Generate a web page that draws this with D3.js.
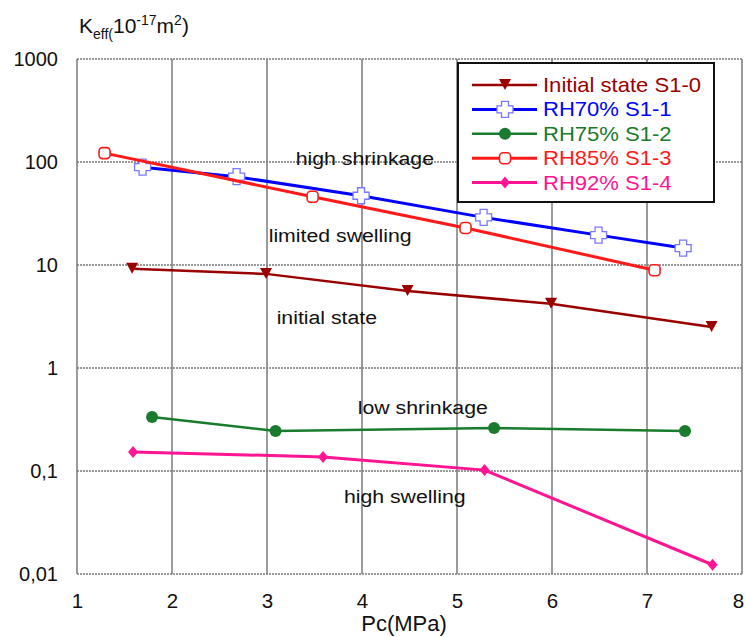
<!DOCTYPE html>
<html><head><meta charset="utf-8">
<script src="https://cdn.jsdelivr.net/npm/d3@7"></script>
<style>body{margin:0;background:#fff}svg{display:block;font-family:"Liberation Sans",Arial,sans-serif}</style>
</head><body><svg id="c" width="746" height="637"></svg>
<script>
const xTicks = [1,2,3,4,5,6,7,8];
const yTicks = [0.01,0.1,1,10,100,1000];
const yTickLabels = ["0,01","0,1","1","10","100","1000"];
const seriesNames = ["Initial state S1-0","RH70% S1-1","RH75% S1-2","RH85% S1-3","RH92% S1-4"];
const seriesColors = ["#990000","#0000ff","#1a7a2e","#ff1a1a","#ff1493"];
const s0x = [1.58,2.99,4.48,5.99,7.68], s0y = [9.2,8.2,5.6,4.2,2.5];
const s1x = [1.69,2.68,3.99,5.28,6.49,7.38], s1y = [89,72,47,29,19.5,14.6];
const s2x = [1.79,3.09,5.39,7.40], s2y = [0.334,0.245,0.262,0.245];
const s3x = [1.29,3.48,5.09,7.08], s3y = [122,46,22.9,8.9];
const s4x = [1.59,3.59,5.29,7.69], s4y = [0.153,0.137,0.102,0.0123];
const notes = ["high shrinkage","limited swelling","initial state","low shrinkage","high swelling"];
const noteX = [4.03,3.77,3.63,4.64,4.45], noteY = [93.5,16.7,2.67,0.357,0.0489];

const svg = d3.select("#c");
const L=77,R=742,T=59,B=574;
const x = d3.scaleLinear().domain([1,8]).range([L,R]);
const y = d3.scaleLog().domain([0.01,1000]).range([B,T]);

// grid
svg.append("g").selectAll("line").data(xTicks).join("line")
  .attr("x1",d=>x(d)).attr("x2",d=>x(d)).attr("y1",T).attr("y2",B)
  .attr("stroke","#7a7a7a").attr("stroke-width",1.5);
svg.append("g").selectAll("line").data(yTicks).join("line")
  .attr("x1",L).attr("x2",R).attr("y1",d=>y(d)).attr("y2",d=>y(d))
  .attr("stroke","#7a7a7a").attr("stroke-width",1.5).attr("stroke-dasharray","2,1");

// axes
const xa = svg.append("g").attr("transform",`translate(0,${B})`)
  .call(d3.axisBottom(x).tickValues(xTicks).tickSize(0).tickPadding(19).tickFormat(d3.format("d")));
xa.select(".domain").remove();
xa.selectAll("text").attr("font-size",20.5).attr("fill","#111").attr("font-family","Liberation Sans, Arial")
  .attr("dx",d=>d===8?-4:0);
const ya = svg.append("g").attr("transform",`translate(${L},0)`)
  .call(d3.axisLeft(y).tickValues(yTicks).tickSize(0).tickPadding(19).tickFormat((d,i)=>yTickLabels[i]));
ya.select(".domain").remove();
ya.selectAll("text").attr("font-size",20).attr("fill","#111").attr("font-family","Liberation Sans, Arial");

// axis titles
svg.append("text").attr("x",404).attr("y",631).attr("text-anchor","middle")
  .attr("font-size",22).attr("fill","#111").text("Pc(MPa)");
const yt = svg.append("text").attr("x",79).attr("y",33).attr("font-size",21).attr("fill","#111");
yt.append("tspan").text("K");
yt.append("tspan").attr("font-size",14).attr("dy",6).text("eff(");
yt.append("tspan").attr("dy",-6).text("10");
yt.append("tspan").attr("font-size",14).attr("dy",-8).text("-17");
yt.append("tspan").attr("dy",8).text("m");
yt.append("tspan").attr("font-size",14).attr("dy",-8).text("2");
yt.append("tspan").attr("dy",8).text(")");

// annotations
svg.append("g").selectAll("text").data(notes).join("text")
  .attr("transform",(d,i)=>`translate(${x(noteX[i])},${y(noteY[i])}) scale(1.12,1)`)
  .attr("text-anchor","middle")
  .attr("font-size",19).attr("fill","#111").text(d=>d);

const data = [[s0x,s0y],[s1x,s1y],[s2x,s2y],[s3x,s3y],[s4x,s4y]].map(([a,b])=>a.map((v,i)=>[v,b[i]]));
const widths=[2.5,3,2.5,3,3];
const line = d3.line().x(d=>x(d[0])).y(d=>y(d[1]));

function marker(g,k,cx,cy){
  const c=seriesColors[k];
  if(k===0){
    g.append("path").attr("d",`M${cx-6},${cy-6}L${cx+6},${cy-6}L${cx},${cy+5}Z`).attr("fill",c);
  } else if(k===1){
    const a=3.5,b=8;
    g.append("path").attr("d",`M${cx-a},${cy-b}H${cx+a}V${cy-a}H${cx+b}V${cy+a}H${cx+a}V${cy+b}H${cx-a}V${cy+a}H${cx-b}V${cy-a}H${cx-a}Z`)
      .attr("fill","#fff").attr("stroke","#7777ff").attr("stroke-width",1.3);
  } else if(k===2){
    g.append("circle").attr("cx",cx).attr("cy",cy).attr("r",6).attr("fill",c);
  } else if(k===3){
    g.append("rect").attr("x",cx-5.5).attr("y",cy-5.5).attr("width",11).attr("height",11).attr("rx",3.5)
      .attr("fill","#fff").attr("stroke",c).attr("stroke-width",1.6);
  } else {
    g.append("path").attr("d",`M${cx},${cy-6}L${cx+5},${cy}L${cx},${cy+6}L${cx-5},${cy}Z`).attr("fill",c);
  }
}

data.forEach((pts,k)=>{
  const g=svg.append("g");
  g.append("path").attr("d",line(pts)).attr("fill","none").attr("stroke",seriesColors[k]).attr("stroke-width",widths[k]);
  pts.forEach(p=>marker(g,k,x(p[0]),y(p[1])));
});

// legend
const lg = svg.append("g");
lg.append("rect").attr("x",458).attr("y",63).attr("width",256).attr("height",139)
  .attr("fill","#fff").attr("stroke","#111").attr("stroke-width",2);
seriesNames.forEach((n,k)=>{
  const cy=85+k*24.4;
  lg.append("line").attr("x1",472).attr("x2",537).attr("y1",cy).attr("y2",cy)
    .attr("stroke",seriesColors[k]).attr("stroke-width",widths[k]);
  marker(lg,k,505,cy);
  lg.append("text").attr("transform",`translate(543,${cy+7}) scale(1.05,1)`).attr("font-size",21).attr("fill",seriesColors[k]).text(n);
});
</script></body></html>
